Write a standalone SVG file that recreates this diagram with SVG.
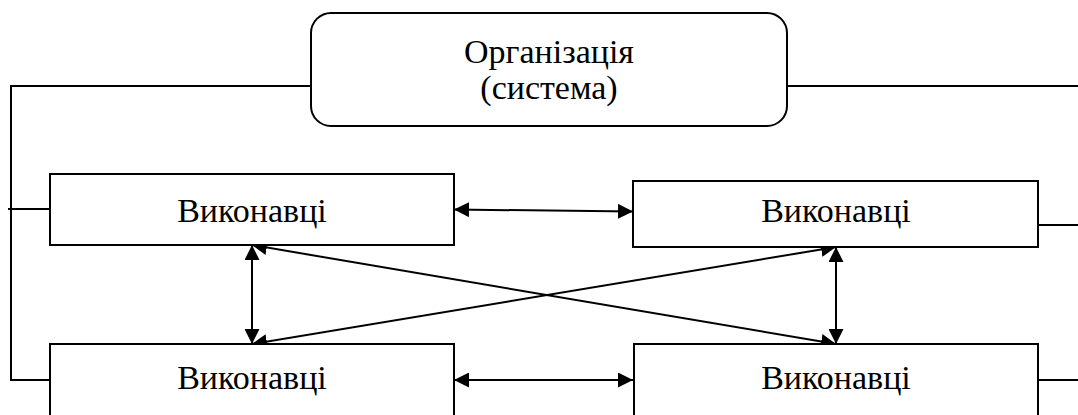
<svg xmlns="http://www.w3.org/2000/svg" width="1078" height="415" viewBox="0 0 1078 415">
  <style>
    .box { fill: #fff; stroke: #000; stroke-width: 2; }
    .wire { fill: none; stroke: #000; stroke-width: 2; }
    .link { fill: none; stroke: #000; stroke-width: 2; marker-start: url(#head); marker-end: url(#head); }
    .label { font-family: "Liberation Serif", "DejaVu Serif", serif; font-size: 34px; fill: #000; text-anchor: middle; }
  </style>
  <defs>
    <marker id="head" markerUnits="userSpaceOnUse" markerWidth="16" markerHeight="15" refX="15" refY="7.5" orient="auto-start-reverse">
      <path d="M0,0 L15,7.5 L0,15 Z" fill="#000"/>
    </marker>
  </defs>
  <rect width="1078" height="415" fill="#fff"/>

  <!-- connectors -->
  <g id="connectors">
    <!-- organisation bus lines -->
    <polyline class="wire" points="310,86 11,86 11,380"/>
    <line class="wire" x1="8" y1="209" x2="50" y2="209"/>
    <line class="wire" x1="10" y1="380" x2="50" y2="380" stroke-width="3"/>
    <line class="wire" x1="787" y1="86" x2="1078" y2="86"/>
    <line class="wire" x1="1038" y1="225" x2="1078" y2="225"/>
    <line class="wire" x1="1038" y1="380" x2="1078" y2="380"/>
    <!-- links between performers -->
    <line class="link" x1="454" y1="209.5" x2="633" y2="211.5"/>
    <line class="link" x1="454" y1="380" x2="633" y2="380"/>
    <line class="link" x1="252" y1="245" x2="252" y2="344"/>
    <line class="link" x1="836" y1="247" x2="836" y2="344"/>
    <line class="link" x1="252" y1="245" x2="836" y2="344"/>
    <line class="link" x1="252" y1="344" x2="836" y2="247"/>
  </g>

  <g id="org">
    <rect class="box" x="311" y="13" width="476" height="113" rx="20" ry="20"/>
    <text class="label" x="549" y="63">Організація</text>
    <text class="label" x="549" y="99">(система)</text>
  </g>

  <g id="performer-tl">
    <rect class="box" x="50" y="174" width="404" height="71"/>
    <text class="label" x="252" y="222">Виконавці</text>
  </g>

  <g id="performer-tr">
    <rect class="box" x="633" y="181" width="405" height="66"/>
    <text class="label" x="836" y="222">Виконавці</text>
  </g>

  <g id="performer-bl">
    <rect class="box" x="50" y="344" width="404" height="80"/>
    <text class="label" x="252" y="389">Виконавці</text>
  </g>

  <g id="performer-br">
    <rect class="box" x="634" y="344" width="404" height="80"/>
    <text class="label" x="836" y="389">Виконавці</text>
  </g>
</svg>
